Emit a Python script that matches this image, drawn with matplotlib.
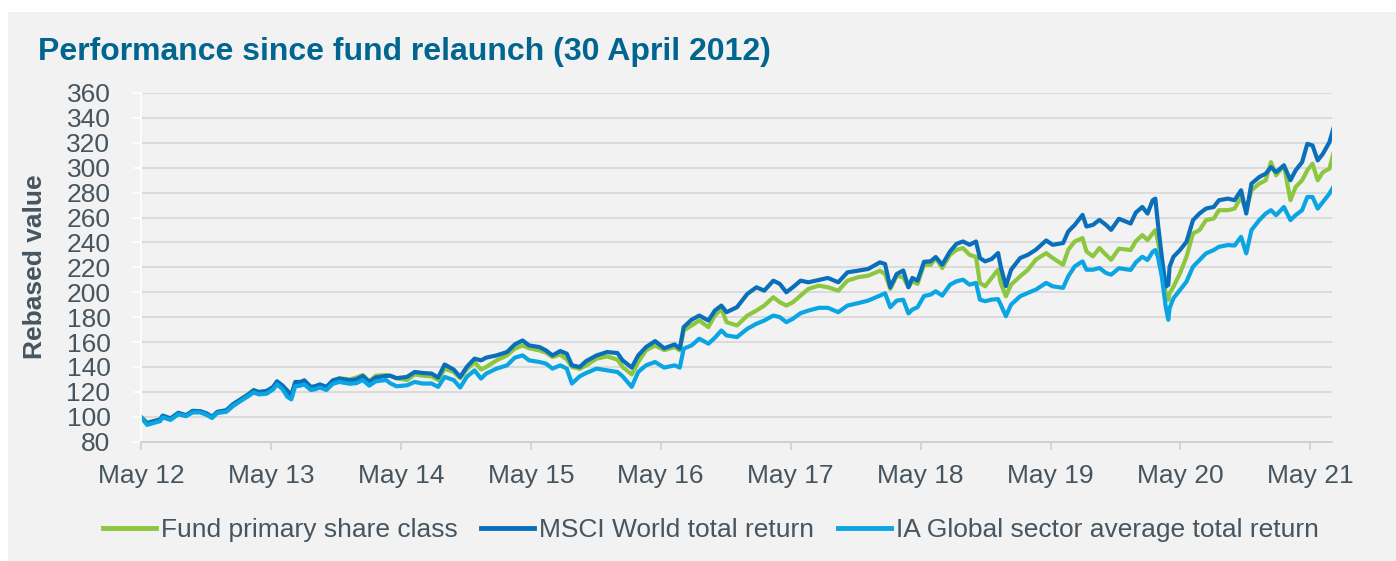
import matplotlib
matplotlib.use("Agg")
import matplotlib.pyplot as plt
from matplotlib.patches import Rectangle

# time axis in decimal years (May 12 = 2012.333)
t = [2012.33, 2012.38, 2012.43, 2012.48, 2012.50, 2012.56, 2012.62, 2012.68, 2012.73, 2012.79,
     2012.84, 2012.88, 2012.92, 2012.99, 2013.04, 2013.09, 2013.15, 2013.20, 2013.24, 2013.30,
     2013.35, 2013.38, 2013.42, 2013.46, 2013.49, 2013.52, 2013.56, 2013.59, 2013.64, 2013.67,
     2013.71, 2013.76, 2013.81, 2013.86, 2013.94, 2013.99, 2014.04, 2014.09, 2014.14, 2014.22,
     2014.25, 2014.30, 2014.38, 2014.44, 2014.50, 2014.57, 2014.62, 2014.67, 2014.74, 2014.79,
     2014.84, 2014.90, 2014.95, 2014.99, 2015.07, 2015.15, 2015.21, 2015.27, 2015.32, 2015.40,
     2015.45, 2015.50, 2015.56, 2015.61, 2015.65, 2015.71, 2015.76, 2015.84, 2015.92, 2016.00,
     2016.04, 2016.11, 2016.16, 2016.22, 2016.29, 2016.36, 2016.44, 2016.48, 2016.51, 2016.57,
     2016.63, 2016.70, 2016.75, 2016.80, 2016.84, 2016.92, 2017.00, 2017.07, 2017.13, 2017.20,
     2017.25, 2017.30, 2017.35, 2017.41, 2017.47, 2017.55, 2017.62, 2017.70, 2017.77, 2017.85,
     2017.93, 2018.02, 2018.06, 2018.10, 2018.15, 2018.20, 2018.24, 2018.27, 2018.31, 2018.36,
     2018.41, 2018.45, 2018.50, 2018.56, 2018.61, 2018.66, 2018.71, 2018.76, 2018.79, 2018.83,
     2018.88, 2018.93, 2018.95, 2018.99, 2019.03, 2019.10, 2019.16, 2019.22, 2019.30, 2019.35,
     2019.43, 2019.47, 2019.52, 2019.58, 2019.61, 2019.66, 2019.71, 2019.76, 2019.80, 2019.86,
     2019.95, 2019.99, 2020.04, 2020.08, 2020.12, 2020.14, 2020.16, 2020.19, 2020.22, 2020.24,
     2020.25, 2020.28, 2020.33, 2020.38, 2020.43, 2020.48, 2020.53, 2020.59, 2020.63, 2020.70,
     2020.75, 2020.80, 2020.84, 2020.88, 2020.94, 2020.99, 2021.03, 2021.07, 2021.13, 2021.18,
     2021.22, 2021.27, 2021.31, 2021.35, 2021.39, 2021.43, 2021.48, 2021.51]

fund = [100, 95.5, 96.5, 97.5, 100.5, 98.5, 102.5, 101, 104, 104,
        101.5, 99.5, 103.5, 105, 110, 113.5, 117.5, 121.5, 119.5, 120,
        123.5, 127.5, 124.5, 120, 117.5, 126, 126.5, 127.5, 123, 123.5,
        125.5, 123.5, 129, 131, 130, 131.5, 133.5, 128.5, 133, 133.5,
        133, 131, 129.5, 134, 133, 132.5, 129.5, 138.5, 136, 131,
        138, 144, 138, 140, 145.3, 149.3, 154.7, 157.3, 155, 153.3,
        151.5, 148, 150, 146, 140, 138.5, 141.3, 146.7, 148.5, 145.9,
        140, 134, 144, 153.3, 157.3, 153.5, 156, 153.3, 169.3, 173.3,
        177.3, 172, 181.3, 186.7, 176, 173.3, 181.3, 185.3, 189.3, 196,
        192, 189.3, 192, 197.3, 202.7, 205.3, 204, 201.3, 209.3, 212,
        213.3, 217.3, 214.7, 202.7, 213.3, 212, 204, 208.8, 206.7, 222.1,
        222, 227.5, 219.5, 230.1, 234.1, 235.5, 230.1, 228.3, 207.5, 204.8,
        211.5, 218.1, 207.5, 196.8, 206.1, 212.8, 218.1, 226.1, 231.5, 227.5,
        222.1, 234.1, 240.8, 243.5, 232.8, 228.8, 235.5, 230.1, 226.1, 235,
        233.9, 241, 245.9, 241.9, 247.2, 249.9, 241, 223.2, 199.2, 193.9,
        199.2, 204.5, 215.2, 228.5, 247.2, 249.9, 257.9, 259.2, 265.9, 265.9,
        267.2, 276.5, 265.9, 281.9, 287.2, 289.9, 304.5, 293.9, 301.9, 273.9,
        284.5, 289.9, 297.9, 303.2, 289.9, 296.5, 299.2, 311.2]

msci = [100, 94.7, 96.5, 97.9, 101, 98.7, 103.2, 101.3, 104.8, 104.5,
        102.7, 100, 104, 105.3, 110, 113.3, 117.3, 121.3, 120, 120.8,
        124, 128.5, 125.3, 121, 117.3, 128, 128, 129.3, 124, 124.5,
        126, 124, 129.3, 130.7, 129.3, 130, 132.8, 128, 131.5, 132.8,
        133, 131, 132, 136, 135.2, 134.7, 131.5, 142, 137.9, 132,
        140, 146.7, 145.3, 147.5, 149.3, 152, 158.1, 161.3, 157.3, 156,
        153.3, 149.3, 152.8, 150.7, 141.3, 140, 144.8, 149.3, 152, 151.2,
        145.3, 139.5, 149.3, 156, 160.8, 155, 158.1, 154.7, 172, 177.9,
        181.3, 177.3, 185.3, 189.3, 184, 188, 198.7, 204, 201.3, 209.3,
        206.7, 200, 204, 209.3, 208, 209.9, 211.5, 208, 216, 217.3,
        218.7, 224, 222.7, 204, 214.7, 217.5, 204, 211.5, 209.3, 224.5,
        224.8, 228.3, 222.1, 232.8, 238.9, 240.8, 238.1, 240.8, 227.5, 224.8,
        226.7, 231.5, 220.8, 204.8, 218.1, 227.5, 230.1, 234.1, 241.6, 238.1,
        239.5, 248.8, 254.1, 262.1, 252.8, 254.1, 258.1, 254.1, 250.1, 259,
        255.2, 264, 268.5, 263.2, 273.9, 275.2, 255.2, 228.5, 204.5, 205.9,
        220.5, 228.5, 233.9, 240.5, 257.9, 263.2, 267.2, 268.5, 273.9, 275.2,
        273.9, 281.9, 263.2, 287.2, 292.5, 295.2, 300.5, 296.5, 301.9, 289.9,
        297.9, 304.5, 319.2, 317.9, 305.9, 311.2, 320.5, 331.2]

ia_global = [100, 93.5, 95, 96.5, 99.5, 97.5, 102, 100.5, 103.5, 103.5,
             101.5, 99, 103, 104, 108.5, 112, 116, 119.5, 118, 118.5,
             122, 126, 122.5, 116, 114, 124.5, 125, 126, 121.5, 122,
             123.5, 121.5, 126.5, 128, 126.5, 127, 129.5, 125, 128.5, 129.5,
             127, 124.5, 125.3, 128, 126.7, 126.7, 124, 132, 129.5, 123.5,
             132, 137.3, 130.7, 134.7, 138.7, 141.3, 147.5, 149.3, 145.3, 144,
             142.7, 138.7, 141.3, 138.7, 126.7, 132.5, 135.2, 138.7, 137.3, 136,
             132.5, 124, 136, 141.3, 144, 139.5, 141.3, 139.5, 154.7, 157.3,
             162.7, 158.7, 163.5, 169.3, 165.3, 164, 170.7, 174.7, 177.3, 181.3,
             180, 176, 178.7, 183.2, 185.3, 187.5, 187.5, 184, 189.3, 191.2,
             193.3, 197.3, 199.2, 188, 193.3, 194, 183, 186.1, 188, 197,
             198.1, 200.8, 197.3, 206.1, 208.8, 210.1, 206.1, 207.5, 194.1, 192.8,
             194.1, 194.5, 190.1, 180.8, 190.1, 196.8, 199.5, 202.1, 207.5, 204.8,
             203.5, 212.8, 220.8, 224.8, 218.1, 218.1, 219.5, 215.5, 214.1, 219.3,
             217.9, 224, 228.5, 225.9, 232.5, 233.9, 228.5, 212.5, 188.5, 177.9,
             187.2, 195.2, 201.9, 208.5, 220.5, 225.9, 231.2, 233.9, 236.5, 237.9,
             237.5, 244.5, 231.2, 249.9, 257.9, 263.2, 265.9, 261.9, 268.5, 257.9,
             261.9, 265.9, 276.5, 276.5, 267.2, 272.5, 279.2, 284.5]

series_names = ["Fund primary share class", "MSCI World total return",
                "IA Global sector average total return"]
series_colors = ["#8dc63f", "#0a6fba", "#0ba5e3"]

year_ticks = [2012 + 4 / 12 + k for k in range(10)]
year_labels = ["May 12", "May 13", "May 14", "May 15", "May 16",
               "May 17", "May 18", "May 19", "May 20", "May 21"]

plt.rcParams["font.family"] = ["Liberation Sans", "DejaVu Sans"]
txt_col = "#46555f"
grid_col = "#d9d9d9"
bg = "#f2f2f2"

W, H = 1396, 561
fig = plt.figure(figsize=(W / 100, H / 100), dpi=100, facecolor="white")
# grey panel behind everything
fig.patches.append(Rectangle((8 / W, 0), 1 - 8 / W, 1 - 12 / H, transform=fig.transFigure,
                             facecolor=bg, edgecolor="none", zorder=-5))

ax = fig.add_axes([141 / W, 1 - 441.7 / H, (1332 - 141) / W, (441.7 - 93) / H])
ax.set_facecolor(bg)
ax.set_zorder(2)

for vals, name, col in zip([fund, msci, ia_global], series_names, series_colors):
    ax.plot(t, vals, color=col, lw=3.0, label=name, solid_joinstyle="round")

ax.set_ylim(80, 360)
ax.set_yticks(range(80, 361, 20))
ax.set_xlim(2012.333, 2021.5)
ax.set_xticks(year_ticks)
ax.set_xticklabels(year_labels)

ax.yaxis.grid(True, color=grid_col, lw=1.3)
ax.set_axisbelow(True)
for s in ["top", "right"]:
    ax.spines[s].set_visible(False)
ax.spines["left"].set_color("white")
ax.spines["left"].set_linewidth(1.2)
ax.spines["bottom"].set_color("#cfcfcf")
ax.spines["bottom"].set_linewidth(1.3)

ax.tick_params(axis="y", colors="white", labelcolor=txt_col, labelsize=19,
               length=6, width=1.2, pad=16)
ax.tick_params(axis="x", colors="#cfcfcf", labelcolor=txt_col, labelsize=19,
               length=6, width=1.2, pad=10)

fig.text(38 / W, 1 - 52 / H, "Performance since fund relaunch (30 April 2012)",
         fontsize=23, fontweight="bold", color="#00658f", va="center", ha="left")
fig.text(35 / W, 1 - 267 / H, "Rebased value", rotation=90, fontsize=19,
         fontweight="bold", color=txt_col, va="center", ha="center")

leg = fig.legend(loc="center", bbox_to_anchor=(711 / W, 1 - 530 / H), ncol=3,
                 frameon=False, fontsize=19, handlelength=2.0, handletextpad=0.2,
                 columnspacing=0.9)
for txt in leg.get_texts():
    txt.set_color(txt_col)
for ln in leg.get_lines():
    ln.set_linewidth(3.5)

fig.savefig("out.png", dpi=100, facecolor="white")
